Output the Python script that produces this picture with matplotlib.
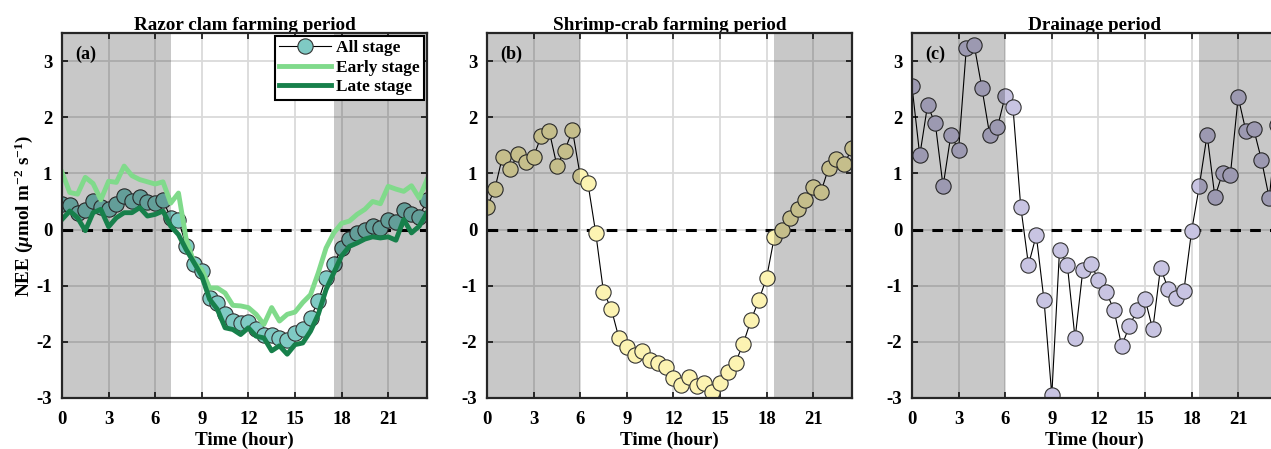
import numpy as np
import matplotlib
matplotlib.use("Agg")
import matplotlib.pyplot as plt

plt.rcParams['font.family'] = 'Liberation Serif'
plt.rcParams['font.weight'] = 'bold'
plt.rcParams['axes.unicode_minus'] = False
plt.rcParams['mathtext.fontset'] = 'custom'
plt.rcParams['mathtext.rm'] = 'Liberation Serif:bold'
plt.rcParams['mathtext.it'] = 'Liberation Serif:italic:bold'

hours = np.arange(0, 24, 0.5)

# Razor clam farming period
razor_all = [0.46, 0.44, 0.30, 0.34, 0.50, 0.40, 0.37, 0.46, 0.59, 0.51, 0.58, 0.49,
             0.47, 0.52, 0.21, 0.17, -0.30, -0.62, -0.74, -1.22, -1.30, -1.51, -1.63, -1.67,
             -1.65, -1.78, -1.87, -1.88, -1.93, -1.97, -1.84, -1.78, -1.57, -1.27, -0.86, -0.62,
             -0.33, -0.17, -0.06, 0.00, 0.07, 0.03, 0.17, 0.13, 0.34, 0.27, 0.23, 0.52]
razor_early = [1.02, 0.66, 0.63, 0.93, 0.82, 0.53, 0.86, 0.84, 1.13, 0.96, 0.89, 0.85,
               0.81, 0.85, 0.47, 0.65, -0.18, -0.59, -0.71, -1.04, -1.04, -1.13, -1.35, -1.36,
               -1.39, -1.51, -1.69, -1.39, -1.63, -1.51, -1.47, -1.30, -1.16, -0.77, -0.33, -0.06,
               0.11, 0.15, 0.27, 0.36, 0.50, 0.46, 0.77, 0.72, 0.68, 0.78, 0.56, 0.89]
razor_late = [0.18, 0.33, 0.21, -0.02, 0.30, 0.36, 0.05, 0.21, 0.30, 0.30, 0.39, 0.24,
              0.27, 0.33, 0.06, -0.09, -0.36, -0.59, -0.83, -1.24, -1.42, -1.75, -1.78, -1.87,
              -1.75, -1.90, -1.93, -2.16, -2.07, -2.22, -2.05, -2.02, -1.81, -1.51, -1.07, -0.77,
              -0.47, -0.30, -0.24, -0.17, -0.13, -0.15, -0.13, -0.19, 0.18, -0.06, 0.06, 0.30]

# Shrimp-crab farming period
shrimp_all = [0.40, 0.72, 1.30, 1.08, 1.35, 1.20, 1.30, 1.67, 1.76, 1.14, 1.40, 1.77,
              0.96, 0.82, -0.06, -1.11, -1.41, -1.94, -2.10, -2.24, -2.16, -2.33, -2.37, -2.44,
              -2.64, -2.77, -2.63, -2.79, -2.74, -2.89, -2.73, -2.54, -2.37, -2.03, -1.61, -1.26,
              -0.86, -0.13, 0.00, 0.20, 0.36, 0.53, 0.76, 0.67, 1.10, 1.26, 1.16, 1.45]

# Drainage period
drain_all = [2.55, 1.32, 2.21, 1.89, 0.77, 1.68, 1.42, 3.24, 3.29, 2.52, 1.69, 1.82,
             2.38, 2.18, 0.41, -0.63, -0.10, -1.26, -2.95, -0.36, -0.63, -1.94, -0.72, -0.61,
             -0.89, -1.11, -1.43, -2.07, -1.72, -1.43, -1.23, -1.78, -0.68, -1.06, -1.22, -1.10,
             -0.03, 0.78, 1.69, 0.58, 1.01, 0.98, 2.36, 1.75, 1.79, 1.24, 0.56, 1.87]

titles = ['Razor clam farming period', 'Shrimp-crab farming period', 'Drainage period']
tags = ['(a)', '(b)', '(c)']
series = [razor_all, shrimp_all, drain_all]
face_colors = ['#7fcac4', '#fcf3b2', '#c8c4e2']
# night-time (shaded) windows for each panel
night = [[(0, 7), (17.5, 23.5)], [(0, 6), (18.5, 23.5)], [(0, 6), (18.5, 23.5)]]

early_color = '#80da8b'
late_color = '#17804b'

fig = plt.figure(figsize=(12.71, 4.49), dpi=100)
lefts = [62, 487, 912]
axes = []
for i, left in enumerate(lefts):
    ax = fig.add_axes([left / 1271, 51 / 449, 365 / 1271, 365 / 449])
    axes.append(ax)

    ax.set_xlim(0, 23.5)
    ax.set_ylim(-3, 3.5)
    ax.set_xticks(np.arange(0, 24, 3))
    ax.set_yticks(np.arange(-3, 4, 1))
    ax.grid(True, color='#dadada', lw=1.3)
    ax.set_axisbelow(True)

    ax.axhline(0, color='black', ls=(0, (3.5, 3)), lw=2.2, zorder=1)
    ax.plot(hours, series[i], '-o', color='black', lw=0.8, ms=11,
            mfc=face_colors[i], mec='#333333', mew=0.8, zorder=1.5, label='All stage')

    for a, b in night[i]:
        ax.axvspan(a, b, color='black', alpha=0.215, lw=0, zorder=2)

    ax.set_title(titles[i], fontsize=13.8, fontweight='bold', pad=2)
    ax.set_xlabel('Time (hour)', fontsize=13.8, fontweight='bold', labelpad=3)
    ax.text(0.035, 0.965, tags[i], transform=ax.transAxes, ha='left', va='top',
            fontsize=13, fontweight='bold')

    ax.tick_params(direction='in', length=4, width=1.3, top=True, right=True,
                   labelsize=13.5, color='#222222')
    ax.tick_params(axis='x', pad=9)
    ax.tick_params(axis='y', pad=7)
    for sp in ax.spines.values():
        sp.set_linewidth(1.6)
        sp.set_color('#262626')
        sp.set_zorder(5)
    for lab in ax.get_xticklabels() + ax.get_yticklabels():
        lab.set_fontweight('bold')

ax = axes[0]
ax.plot(hours, razor_early, color=early_color, lw=3.5, zorder=3, label='Early stage')
ax.plot(hours, razor_late, color=late_color, lw=3.5, zorder=3, label='Late stage')
ax.set_ylabel(r'NEE ($\mu$mol m$^{-2}$ s$^{-1}$)', fontsize=13.8, fontweight='bold', labelpad=1)
leg = ax.legend(loc='upper right', borderaxespad=0.15, fancybox=False, framealpha=1,
                edgecolor='black', handlelength=3.0, handletextpad=0.3, labelspacing=0.2,
                borderpad=0.25, prop={'weight': 'bold', 'size': 12.5})
leg.get_frame().set_linewidth(1.5)
leg.set_zorder(10)

fig.savefig('out.png', dpi=100)
